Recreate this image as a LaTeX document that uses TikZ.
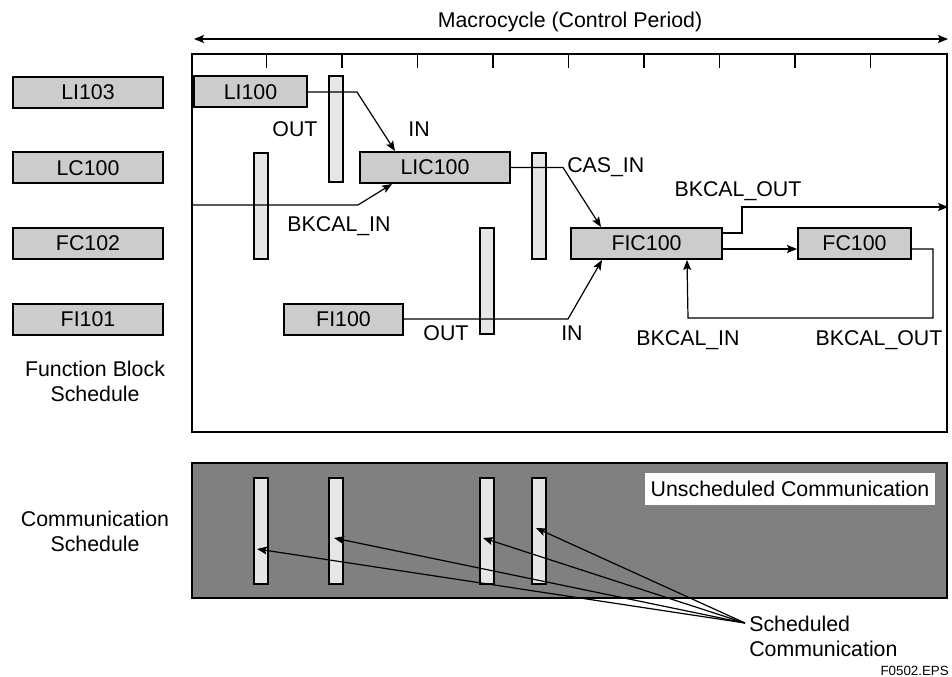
\documentclass[tikz,border=0pt]{standalone}
\usepackage{fontspec}
\setmainfont{Liberation Sans}
\usetikzlibrary{arrows.meta,calc}
\definecolor{blkgray}{HTML}{CCCCCC}
\definecolor{bargray}{HTML}{E6E6E6}
\definecolor{commgray}{HTML}{808080}
\begin{document}
\begin{tikzpicture}[x=0.75pt,y=-0.75pt,
  font=\fontsize{16}{18.8}\selectfont,
  tip/.tip={Stealth[length=7.5pt,width=6pt,inset=1.5pt]},
  conn/.style={line width=0.9pt,-tip},
  fblock/.style={draw,line width=1.5pt,fill=blkgray,inner sep=0pt,minimum height=31*0.75pt},
  slot/.style={draw,line width=1.5pt,fill=bargray,inner sep=0pt,minimum width=14*0.75pt,minimum height=106*0.75pt},
  lbl/.style={anchor=base,inner sep=0pt},
  tick/.style={line width=1pt}
]
\useasboundingbox (0,0) rectangle (952,677);

% frames
\node[draw,line width=1.7pt,inner sep=0pt,minimum width=755*0.75pt,minimum height=378*0.75pt] (frame) at (569.5,243) {};
\node[draw,line width=1.5pt,fill=commgray,inner sep=0pt,minimum width=755*0.75pt,minimum height=135*0.75pt] (comm) at (569.5,530.5) {};

% macrocycle arrow
\coordinate (mcL) at (194,39);
\coordinate (mcR) at (948,39);
\draw[line width=0.9pt,tip-tip] (mcL) -- (mcR);
\node[lbl] (mc) at (570,28) {Macrocycle (Control Period)};

% ticks
\foreach \k in {1,...,9}
  \draw[tick] ($(frame.north west)+(75.5*\k,0)$) -- ++(0,15);

% left column
\node[fblock,minimum width=150*0.75pt] (LI103) at (88,92.5) {LI103};
\node[fblock,minimum width=150*0.75pt] (LC100) at (88,168) {LC100};
\node[fblock,minimum width=150*0.75pt] (FC102) at (88,243.5) {FC102};
\node[fblock,minimum width=150*0.75pt] (FI101) at (88,319.5) {FI101};
\node[align=center,inner sep=0pt] (fbs) at (95,381.7) {Function Block\\Schedule};
\node[align=center,inner sep=0pt] (cs) at (95,531) {Communication\\Schedule};

% slots in function block schedule
\node[slot] (sA) at (336,129.5) {};
\node[slot] (sB) at (260.5,206) {};
\node[slot] (sC) at (539,206) {};
\node[slot] (sD) at (487,281) {};

% function blocks
\node[fblock,minimum width=113*0.75pt] (LI100) at (250.5,92) {LI100};
\node[fblock,minimum width=150*0.75pt] (LIC100) at (435,167.5) {LIC100};
\node[fblock,minimum width=119*0.75pt] (FI100) at (343.5,319) {FI100};
\node[fblock,minimum width=151*0.75pt] (FIC100) at (646.5,243.5) {FIC100};
\node[fblock,minimum width=113*0.75pt] (FC100) at (854.5,243.5) {FC100};

% connectors
\draw[conn] (LI100.east) -- (357,92) -- ($(LIC100.north west)+(36,0)$);
\draw[conn] ($(frame.west)+(0,-38)$) -- (358,205) -- ($(LIC100.south west)+(33,0)$);
\draw[conn] (LIC100.east) -- (563,167.5) -- ($(FIC100.north west)+(31,0)$);
\draw[conn] (FI100.east) -- (568,319) -- ($(FIC100.south west)+(32,0)$);
\draw[conn] ($(FIC100.east)+(0,-10.5)$) -- (742,233) -- (742,207) -- ($(frame.east)+(0,-36)$);
\draw[conn] ($(FIC100.east)+(0,5.5)$) -- ($(FC100.west)+(0,5.5)$);
\draw[conn] ($(FC100.east)+(0,5.5)$) -- (933,249) -- (933,318) -- (688,318) -- ($(FIC100.south west)+(117,0)$);

% labels
\node[lbl] (outA) at (295,136.7) {OUT};
\node[lbl] (inA) at (419,136.7) {IN};
\node[lbl] (bkinA) at (339,231.7) {BKCAL\_IN};
\node[lbl,anchor=base west] (casin) at (567,173) {CAS\_IN};
\node[lbl] (bkoutA) at (738,197) {BKCAL\_OUT};
\node[lbl] (outB) at (446,340.7) {OUT};
\node[lbl,anchor=base west] (inB) at (561,340.7) {IN};
\node[lbl] (bkinB) at (688,345) {BKCAL\_IN};
\node[lbl] (bkoutB) at (879,345) {BKCAL\_OUT};

% communication schedule
\node[fill=white,inner sep=0pt,minimum width=290*0.75pt,minimum height=32*0.75pt] (unsch) at (790,489) {Unscheduled Communication};
\node[slot] (cb1) at (260.5,531) {};
\node[slot] (cb2) at (336,531) {};
\node[slot] (cb3) at (487,531) {};
\node[slot] (cb4) at (539,531) {};

\coordinate (sc) at (745,623);
\draw[conn] (sc) -- ($(cb1)+(-3.5,18)$);
\draw[conn] (sc) -- ($(cb2)+(-2,7)$);
\draw[conn] (sc) -- ($(cb3)+(-4,7)$);
\draw[conn] (sc) -- ($(cb4)+(-3,-3)$);
\node[anchor=west,align=left,inner sep=0pt] (schc) at (749,636.8) {Scheduled\\Communication};
\node[anchor=base east,inner sep=0pt,font=\fontsize{10}{12}\selectfont] (fig) at (949,675) {F0502.EPS};
\end{tikzpicture}
\end{document}
